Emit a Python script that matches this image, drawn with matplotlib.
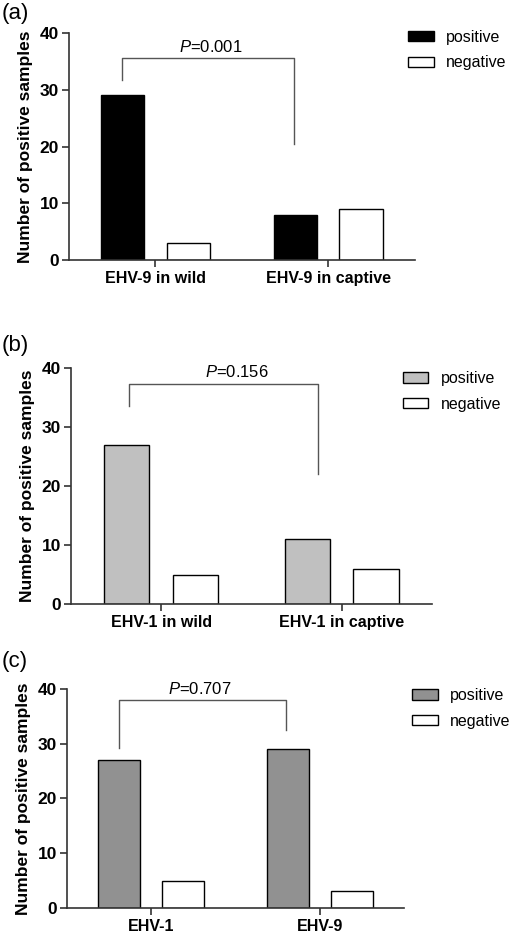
import numpy as np
import matplotlib
matplotlib.use("Agg")
import matplotlib.pyplot as plt

plt.rcParams['font.family'] = ['Liberation Sans', 'DejaVu Sans']
plt.rcParams['mathtext.fontset'] = 'custom'
plt.rcParams['mathtext.it'] = 'Liberation Sans:italic'
plt.rcParams['mathtext.rm'] = 'Liberation Sans'

# data
cats_a = ["EHV-9 in wild", "EHV-9 in captive"]
pos_a = [29, 8]
neg_a = [3, 9]

cats_b = ["EHV-1 in wild", "EHV-1 in captive"]
pos_b = [27, 11]
neg_b = [5, 6]

cats_c = ["EHV-1", "EHV-9"]
pos_c = [27, 29]
neg_c = [5, 3]

p_labels = ["0.001", "0.156", "0.707"]
panel_labels = ["(a)", "(b)", "(c)"]
pos_colors = ["#000000", "#c0c0c0", "#919191"]

# bracket: x left, x right, top, left end, right end, text x
brackets = [(-0.19, 0.80, 35.6, 31.7, 20.4, 0.32),
            (-0.18, 0.87, 37.3, 33.5, 22.1, 0.42),
            (-0.19, 0.80, 37.9, 29.3, 32.5, 0.29)]

# axes boxes in figure fraction [left, bottom, width, height]
boxes = [[0.135, 0.7219, 0.678, 0.2428],
         [0.139, 0.3540, 0.708, 0.2524],
         [0.131, 0.0290, 0.661, 0.2341]]
legend_anchor = [(0.800, 0.968), (0.790, 0.603), (0.808, 0.264)]
label_pos = [(0.003, 0.997), (0.003, 0.642), (0.003, 0.304)]

fig = plt.figure(figsize=(5.1, 9.35), dpi=100)

data = [(cats_a, pos_a, neg_a), (cats_b, pos_b, neg_b), (cats_c, pos_c, neg_c)]
axc = "#333333"
w = 0.25
off = 0.19

for i, (cats, pos, neg) in enumerate(data):
    ax = fig.add_axes(boxes[i])
    x = np.arange(len(cats))
    ax.bar(x - off, pos, w, color=pos_colors[i], edgecolor='black', linewidth=1.0, label='positive')
    ax.bar(x + off, neg, w, color='white', edgecolor='black', linewidth=1.0, label='negative')
    ax.set_xlim(-0.5, 1.5)
    ax.set_ylim(0, 40)
    ax.set_yticks([0, 10, 20, 30, 40])
    ax.set_xticks(x)
    ax.set_xticklabels(cats, fontsize=11.5, fontweight='bold')
    for t in ax.get_yticklabels():
        t.set_fontsize(12.5)
        t.set_fontweight('bold')
    ax.tick_params(direction='out', length=5, width=1.2, color=axc)
    ax.tick_params(axis='x', pad=3)
    ax.tick_params(axis='y', pad=2)
    for s in ['top', 'right']:
        ax.spines[s].set_visible(False)
    for s in ['left', 'bottom']:
        ax.spines[s].set_color(axc)
        ax.spines[s].set_linewidth(1.2)
    ax.set_ylabel("Number of positive samples", fontsize=12.5, fontweight='bold', labelpad=5)

    xl, xr, top, yl, yr, tx = brackets[i]
    ax.plot([xl, xl, xr, xr], [yl, top, top, yr], color='#555555', linewidth=1.0, clip_on=False)
    ax.text(tx, top + 0.6, r"$\it{P}$=" + p_labels[i], ha='center', va='bottom', fontsize=12, clip_on=False)

    ax.legend(loc='upper left', bbox_to_anchor=legend_anchor[i], bbox_transform=fig.transFigure,
              frameon=False, fontsize=11.5, handlelength=1.6, handleheight=0.6,
              handletextpad=0.8, labelspacing=0.65, borderpad=0, borderaxespad=0)

    fig.text(label_pos[i][0], label_pos[i][1], panel_labels[i], fontsize=16, ha='left', va='top')

fig.savefig("out.png", dpi=100)
